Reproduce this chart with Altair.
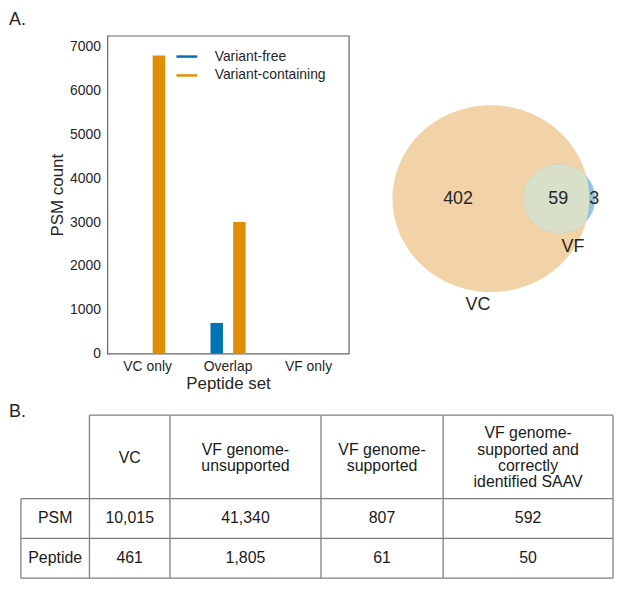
import math
import altair as alt
import pandas as pd

# ---------------- data ----------------
PEPTIDE_SETS = ["VC only", "Overlap", "VF only"]
SERIES = ["Variant-free", "Variant-containing"]
PSM_VARIANT_FREE = [0, 700, 0]
PSM_VARIANT_CONTAINING = [6800, 3000, 0]
Y_TICKS = [0, 1000, 2000, 3000, 4000, 5000, 6000, 7000]

VENN_VC_ONLY = 402
VENN_OVERLAP = 59
VENN_VF_ONLY = 3
VENN_SET_LABELS = ["VC", "VF"]

TABLE_COLUMNS = ["VC", "VF genome-\nunsupported", "VF genome-\nsupported",
                 "VF genome-\nsupported and\ncorrectly\nidentified SAAV"]
TABLE_ROWS = ["PSM", "Peptide"]
PSM_COUNTS = [10015, 41340, 807, 592]
PEPTIDE_COUNTS = [461, 1805, 61, 50]

# ---------------- style / layout ----------------
FONT = "Liberation Sans"
TEXT = "#262626"
BLUE = "#0173B2"
ORANGE = "#DE8F05"
VC_FILL = "#F2D3A7"
VF_FILL = "#92C3E3"
BOTH_FILL = "#D8E0C9"
FRAME = "#666666"
GRID = "#808080"

LEFT = 99                      # svg x of the bar plot's left edge
BAR_W, BAR_H = 243, 320
VENN_W, VENN_H = 267, 363
TABLE_W, TABLE_H = 510, 182
PAGE_X0 = 8 + LEFT             # page x of panel origins
TABLE_Y0 = 396                 # page y of the table panel origin
COL_EDGES = [20, 89, 170, 322, 445, 616]
ROW_EDGES = [413, 497, 537, 577]
LINE_H = 16.5

# ---------------- panel A: bars ----------------
bar_rows = []
for s, vf, vc in zip(PEPTIDE_SETS, PSM_VARIANT_FREE, PSM_VARIANT_CONTAINING):
    bar_rows.append({"set": s, "series": SERIES[0], "psm": vf})
    bar_rows.append({"set": s, "series": SERIES[1], "psm": vc})
bar_df = pd.DataFrame(bar_rows)

legend = alt.Legend(title=None, orient="none", legendX=68, legendY=9,
                    symbolType="stroke", symbolSize=440, symbolStrokeWidth=2.5,
                    labelFontSize=14, labelOffset=16, rowPadding=0,
                    labelFont=FONT, labelColor=TEXT)
color_scale = alt.Scale(domain=SERIES, range=[BLUE, ORANGE])

bars = alt.Chart(bar_df).transform_filter("datum.psm > 0").mark_bar(strokeWidth=0).encode(
    x=alt.X("set:N",
            scale=alt.Scale(domain=PEPTIDE_SETS, paddingInner=0, paddingOuter=0),
            axis=alt.Axis(title="Peptide set", labelAngle=0, domain=False, ticks=False,
                          labelFontSize=14, titleFontSize=17, labelPadding=6, titlePadding=2,
                          labelColor=TEXT, titleColor=TEXT, labelFont=FONT, titleFont=FONT,
                          titleFontWeight="normal")),
    xOffset=alt.XOffset("series:N",
                        scale=alt.Scale(domain=SERIES, paddingInner=0.45, paddingOuter=1)),
    y=alt.Y("psm:Q", scale=alt.Scale(domain=[0, 7250], nice=False),
            axis=alt.Axis(title="PSM count", values=Y_TICKS, format="d", grid=False,
                          domain=False, ticks=False, labelPadding=7, titlePadding=3,
                          labelFontSize=14, titleFontSize=17,
                          labelColor=TEXT, titleColor=TEXT, labelFont=FONT, titleFont=FONT,
                          titleFontWeight="normal")),
    color=alt.Color("series:N", scale=color_scale, legend=legend),
    stroke=alt.Stroke("series:N", scale=color_scale, legend=legend),
)

a_label = alt.Chart(pd.DataFrame({"t": ["A."]})).mark_text(
    align="left", baseline="top", fontSize=18, font=FONT, color=TEXT
).encode(x=alt.value(-LEFT), y=alt.value(-25), text="t:N")

bar_chart = alt.layer(bars, a_label).properties(
    width=BAR_W, height=BAR_H,
    view=alt.ViewBackground(stroke=FRAME, strokeWidth=1.2),
)

# ---------------- panel A: Venn ----------------
def lens_area(r1, r2, d):
    if d >= r1 + r2:
        return 0.0
    if d <= abs(r1 - r2):
        return math.pi * min(r1, r2) ** 2
    a = r1 * r1 * math.acos((d * d + r1 * r1 - r2 * r2) / (2 * d * r1))
    b = r2 * r2 * math.acos((d * d + r2 * r2 - r1 * r1) / (2 * d * r2))
    c = 0.5 * math.sqrt((-d + r1 + r2) * (d + r1 - r2) * (d - r1 + r2) * (d + r1 + r2))
    return a + b - c

R_VC = 99.0          # px radius of the VC circle
ASPECT = 0.95        # vertical squash of the original figure
S = 100.0            # symbol normalisation (px per path unit)
VC_CX, VC_CY = 141.0, 164.0

area_per = math.pi * R_VC ** 2 / (VENN_VC_ONLY + VENN_OVERLAP)
r1 = R_VC
r2 = math.sqrt(area_per * (VENN_OVERLAP + VENN_VF_ONLY) / math.pi)
target = area_per * VENN_OVERLAP
lo, hi = r1 - r2, r1 + r2
for _ in range(100):
    mid = (lo + hi) / 2
    if lens_area(r1, r2, mid) > target:
        lo = mid
    else:
        hi = mid
d = (lo + hi) / 2


def path_from(points):
    pts = [f"{x / S:.4f},{ASPECT * y / S:.4f}" for x, y in points]
    return "M" + "L".join(pts) + "Z"


N = 120
vc_pts = [(r1 * math.cos(2 * math.pi * i / N), r1 * math.sin(2 * math.pi * i / N)) for i in range(N)]
vf_pts = [(d + r2 * math.cos(2 * math.pi * i / N), r2 * math.sin(2 * math.pi * i / N)) for i in range(N)]
x0 = (d * d + r1 * r1 - r2 * r2) / (2 * d)
y0 = math.sqrt(max(r1 * r1 - x0 * x0, 0))
t1 = math.atan2(y0, x0)
t2 = math.atan2(y0, x0 - d)
lens_pts = []
for i in range(61):
    t = -t1 + 2 * t1 * i / 60
    lens_pts.append((r1 * math.cos(t), r1 * math.sin(t)))
for i in range(1, 120):
    t = t2 + (2 * math.pi - 2 * t2) * i / 120
    lens_pts.append((d + r2 * math.cos(t), r2 * math.sin(t)))

SYMBOL_SIZE = (2 * S) ** 2
centre_df = pd.DataFrame({"cx": [VC_CX], "cy": [VC_CY]})
vx = alt.X("cx:Q", scale=alt.Scale(domain=[0, VENN_W], nice=False, zero=False), axis=None)
vy = alt.Y("cy:Q", scale=alt.Scale(domain=[0, VENN_H], nice=False, zero=False, reverse=True), axis=None)


def region(path, fill):
    return alt.Chart(centre_df).mark_point(
        shape=path, size=SYMBOL_SIZE, filled=True, fill=fill, opacity=1, strokeWidth=0
    ).encode(x=vx, y=vy)


vf_cx = VC_CX + d
venn_text = pd.DataFrame({
    "label": [str(VENN_VC_ONLY), str(VENN_OVERLAP), str(VENN_VF_ONLY),
              VENN_SET_LABELS[0], VENN_SET_LABELS[1]],
    "cx": [VC_CX - 33, vf_cx - 1, VC_CX + (r1 + d + r2) / 2 + 2, VC_CX - 13, vf_cx + 14],
    "cy": [VC_CY, VC_CY, VC_CY, VC_CY + ASPECT * r1 + 13, VC_CY + ASPECT * r2 + 14],
})
venn_labels = alt.Chart(venn_text).mark_text(
    fontSize=18, font=FONT, color=TEXT, baseline="middle", align="center"
).encode(x=vx, y=vy, text="label:N")

venn_chart = alt.layer(
    region(path_from(vc_pts), VC_FILL),
    region(path_from(vf_pts), VF_FILL),
    region(path_from(lens_pts), BOTH_FILL),
    venn_labels,
).properties(width=VENN_W, height=VENN_H, view=alt.ViewBackground(stroke="transparent"))

# ---------------- panel B: table ----------------
tx = alt.Scale(domain=[PAGE_X0, PAGE_X0 + TABLE_W], nice=False, zero=False)
ty = alt.Scale(domain=[TABLE_Y0, TABLE_Y0 + TABLE_H], nice=False, zero=False, reverse=True)

lines = []
lines.append({"x": COL_EDGES[1], "x2": COL_EDGES[-1], "y": ROW_EDGES[0], "y2": ROW_EDGES[0]})
for yv in ROW_EDGES[1:]:
    lines.append({"x": COL_EDGES[0], "x2": COL_EDGES[-1], "y": yv, "y2": yv})
lines.append({"x": COL_EDGES[0], "x2": COL_EDGES[0], "y": ROW_EDGES[1], "y2": ROW_EDGES[-1]})
for xv in COL_EDGES[1:]:
    lines.append({"x": xv, "x2": xv, "y": ROW_EDGES[0], "y2": ROW_EDGES[-1]})
lines_df = pd.DataFrame(lines)

table_lines = alt.Chart(lines_df).mark_rule(color=GRID, strokeWidth=1.3).encode(
    x=alt.X("x:Q", scale=tx, axis=None), x2="x2:Q",
    y=alt.Y("y:Q", scale=ty, axis=None), y2="y2:Q",
)


def first_line_y(centre, text):
    n = text.count("\n") + 1
    return centre - (n - 1) * LINE_H / 2


cells = []
for j, col in enumerate(TABLE_COLUMNS):
    cx = (COL_EDGES[j + 1] + COL_EDGES[j + 2]) / 2
    cells.append({"x": cx, "y": first_line_y((ROW_EDGES[0] + ROW_EDGES[1]) / 2 + 1, col), "t": col})
    cells.append({"x": cx, "y": (ROW_EDGES[1] + ROW_EDGES[2]) / 2, "t": f"{PSM_COUNTS[j]:,}"})
    cells.append({"x": cx, "y": (ROW_EDGES[2] + ROW_EDGES[3]) / 2, "t": f"{PEPTIDE_COUNTS[j]:,}"})
for i, rname in enumerate(TABLE_ROWS):
    cells.append({"x": (COL_EDGES[0] + COL_EDGES[1]) / 2,
                  "y": (ROW_EDGES[i + 1] + ROW_EDGES[i + 2]) / 2, "t": rname})
cells_df = pd.DataFrame(cells)

table_text = alt.Chart(cells_df).mark_text(
    fontSize=16, font=FONT, color="#1a1a1a", lineBreak="\n", lineHeight=LINE_H,
    baseline="middle", align="center"
).encode(x=alt.X("x:Q", scale=tx, axis=None), y=alt.Y("y:Q", scale=ty, axis=None), text="t:N")

b_label = alt.Chart(pd.DataFrame({"t": ["B."]})).mark_text(
    align="left", baseline="top", fontSize=18, font=FONT, color=TEXT
).encode(x=alt.value(-LEFT), y=alt.value(5), text="t:N")

table_chart = alt.layer(table_lines, table_text, b_label).properties(
    width=TABLE_W, height=TABLE_H, view=alt.ViewBackground(stroke="transparent")
)

# ---------------- assemble ----------------
top = alt.hconcat(bar_chart, venn_chart, spacing=0)
chart = alt.vconcat(top, table_chart, spacing=0).properties(padding=0).configure_view(
    stroke="transparent"
)

chart.save("out.html", embed_options={"renderer": "svg", "actions": False})
